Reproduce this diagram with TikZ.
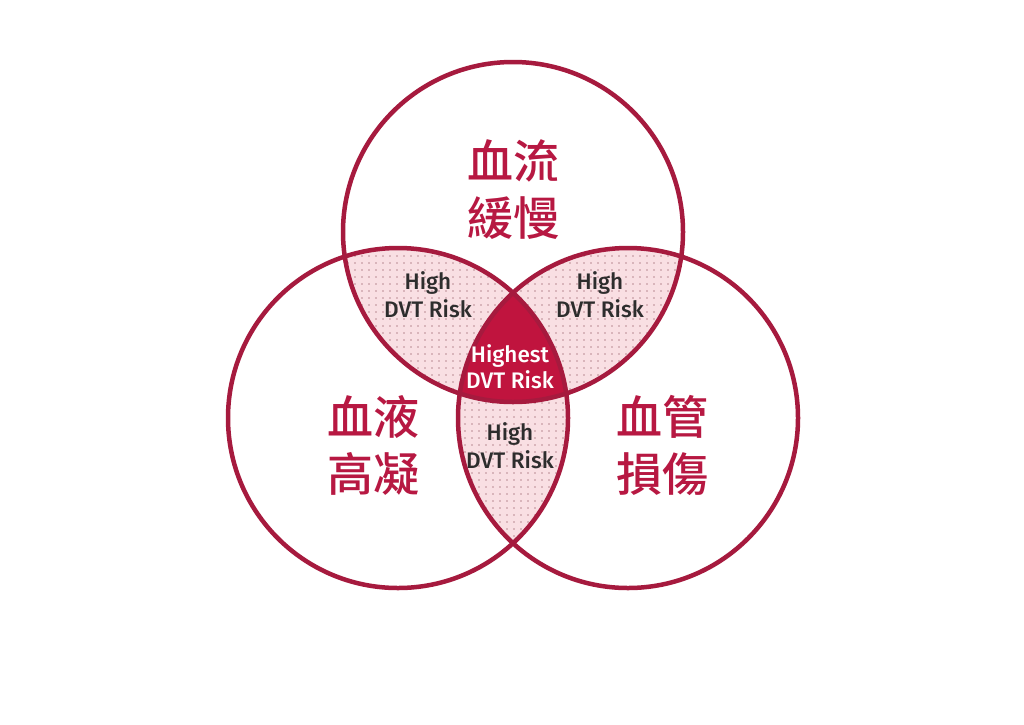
\documentclass[tikz,border=0pt]{standalone}
\usepackage{fontspec}
\newfontfamily\cjk{Noto Sans CJK TC Medium}
\newfontfamily\en{Fira Sans}[UprightFont=* Medium]
\usetikzlibrary{patterns}
\definecolor{ring}{RGB}{166,26,62}
\definecolor{cjkc}{RGB}{183,24,66}
\definecolor{core}{RGB}{192,20,62}
\definecolor{lens}{RGB}{249,223,227}
\definecolor{dotc}{RGB}{185,138,148}
\definecolor{entext}{RGB}{45,45,45}
\pgfdeclarepatternformonly{pdots}{\pgfpointorigin}{\pgfpoint{6.5pt}{6.5pt}}{\pgfpoint{6.5pt}{6.5pt}}%
  {\pgfpathcircle{\pgfpoint{3.25pt}{3.25pt}}{0.95pt}\pgfusepath{fill}}
\begin{document}
\begin{tikzpicture}[x=1pt,y=-1pt,
  ringline/.style={draw=ring,line width=4.5pt},
  cjklabel/.style={text=cjkc,font=\cjk\fontsize{46}{57}\selectfont,align=center,inner sep=0pt},
  risklabel/.style={text=entext,font=\en\fontsize{22.5}{28}\selectfont,align=center,inner sep=0pt},
  corelabel/.style={text=white,font=\en\fontsize{22.5}{26}\selectfont,align=center,inner sep=0pt}]
\useasboundingbox (0,0) rectangle (1024,724);
\fill[white] (0,0) rectangle (1024,724);
\def\R{170}
\coordinate (ct) at (513,232);
\coordinate (cl) at (398,418);
\coordinate (cr) at (628,418);
% lenses
\begin{scope}
  \clip (ct) circle (\R);
  \fill[lens] (cl) circle (\R);
  \fill[pattern=pdots,pattern color=dotc] (cl) circle (\R);
  \fill[lens] (cr) circle (\R);
  \fill[pattern=pdots,pattern color=dotc] (cr) circle (\R);
\end{scope}
\begin{scope}
  \clip (cl) circle (\R);
  \fill[lens] (cr) circle (\R);
  \fill[pattern=pdots,pattern color=dotc] (cr) circle (\R);
\end{scope}
\begin{scope}
  \clip (ct) circle (\R);
  \clip (cl) circle (\R);
  \fill[core] (cr) circle (\R);
\end{scope}
% circles
\draw[ringline] (ct) circle (\R);
\draw[ringline] (cl) circle (\R);
\draw[ringline] (cr) circle (\R);
% labels
\node[cjklabel] (top) at (513,190) {血流\\緩慢};
\node[cjklabel] (left) at (373,445) {血液\\高凝};
\node[cjklabel] (right) at (662,445) {血管\\損傷};
\node[risklabel] (hl) at (428,295) {High\\DVT Risk};
\node[risklabel] (hr) at (600,295) {High\\DVT Risk};
\node[risklabel] (hb) at (510,446) {High\\DVT Risk};
\node[corelabel] (hc) at (510,367) {Highest\\DVT Risk};
\end{tikzpicture}
\end{document}
